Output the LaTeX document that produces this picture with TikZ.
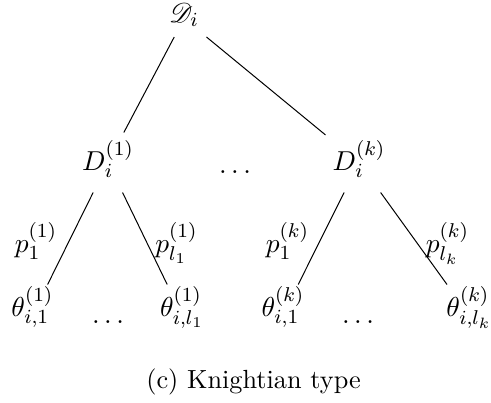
\documentclass[tikz,border=0pt]{standalone}
\usepackage{mathrsfs}
\begin{document}
\begin{tikzpicture}[x=0.4pt,y=-0.4pt,
  txt/.style={inner sep=0pt, anchor=base, font=\fontsize{10.95}{13.6}\selectfont},
  rootn/.style={txt, text height=8.6pt, text depth=5.8pt, minimum width=21.6pt},
  dnode/.style={txt, text height=14.8pt, text depth=8.8pt, minimum width=26.4pt},
  tnode/.style={txt, text height=12.4pt, text depth=11.6pt, minimum width=20pt},
  edge/.style={line width=0.4pt}]
\useasboundingbox (0,0) rectangle (491,402);
% nodes
\node[rootn] (root) at (184,22) {$\mathscr{D}_i$};
\node[dnode] (d1) at (108,170) {$D_i^{(1)}$};
\node[txt] (dd) at (235,173) {$\dots$};
\node[dnode] (dk) at (359,170) {$D_i^{(k)}$};
\node[tnode] (t11) at (32.5,316) {$\theta_{i,1}^{(1)}$};
\node[txt] (td1) at (108,323) {$\dots$};
\node[tnode] (t1l) at (182,316) {$\theta_{i,l_1}^{(1)}$};
\node[tnode] (tk1) at (283,316) {$\theta_{i,1}^{(k)}$};
\node[txt] (tdk) at (358,323) {$\dots$};
\node[tnode] (tkl) at (469,316) {$\theta_{i,l_k}^{(k)}$};
% edge labels
\node[txt] (p11) at (36,252) {$p_1^{(1)}$};
\node[txt] (p1l) at (176.5,252) {$p_{l_1}^{(1)}$};
\node[txt] (pk1) at (287.5,252) {$p_1^{(k)}$};
\node[txt] (pkl) at (447.5,252) {$p_{l_k}^{(k)}$};
% edges
\draw[edge] (root) -- (d1);
\draw[edge] (root) -- (dk);
\draw[edge] (d1) -- (t11);
\draw[edge] (d1) -- (t1l);
\draw[edge] (dk) -- (tk1);
\draw[edge] (dk) -- (tkl);
% caption
\node[txt, font=\fontsize{10.5}{12.6}\selectfont] (cap) at (253.5,388) {(c) Knightian type};
\end{tikzpicture}
\end{document}
